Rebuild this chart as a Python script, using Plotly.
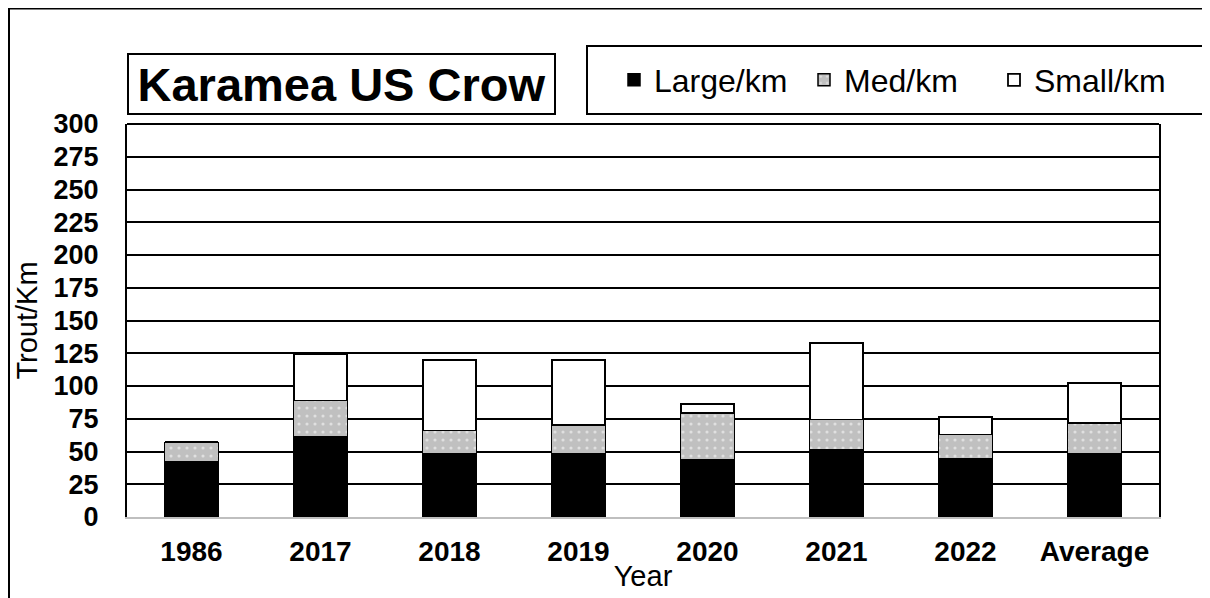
import plotly.graph_objects as go

categories = ["1986", "2017", "2018", "2019", "2020", "2021", "2022", "Average"]
large_km = [42, 61, 48, 48.5, 43.5, 51, 44.5, 48.5]
med_km = [15, 28, 18, 21.5, 36, 23.5, 18.5, 23]
small_km = [0, 35, 54, 50, 7, 58.5, 13.5, 31]
y_ticks = list(range(0, 301, 25))

FONT = "Liberation Sans, Arial, sans-serif"
OFF = 8  # page body margin
W, H = 1202, 590
L, R, T, B = 119, 51, 116, 81
PW, PH = W - L - R, H - T - B


def px(x):
    """screen x -> paper"""
    return (x - OFF - L) / PW


def py(y):
    """screen y -> paper"""
    return (H - B - (y - OFF)) / PH


fig = go.Figure()
fig.add_trace(go.Bar(name="Large/km", x=categories, y=large_km,
                     marker=dict(color="black", line=dict(color="black", width=1.5))))
fig.add_trace(go.Bar(name="Med/km", x=categories, y=med_km,
                     marker=dict(color="#c0c0c0", line=dict(color="black", width=1.5),
                                 pattern=dict(shape=".", fgcolor="white", bgcolor="#c0c0c0",
                                              size=8, solidity=0.12))))
fig.add_trace(go.Bar(name="Small/km", x=categories, y=small_km,
                     marker=dict(color="white", line=dict(color="black", width=1.8))))

fig.update_layout(
    width=W, height=H,
    margin=dict(l=L, r=R, t=T, b=B, autoexpand=False),
    barmode="stack", bargap=0.584,
    plot_bgcolor="white", paper_bgcolor="white",
    font=dict(family=FONT, color="black"),
    showlegend=True,
    legend=dict(orientation="h", x=px(614), xanchor="left", y=py(80), yanchor="middle",
                font=dict(size=32, family=FONT, color="black"), traceorder="normal",
                entrywidth=145, bgcolor="rgba(0,0,0,0)", borderwidth=0, itemwidth=30),
    xaxis=dict(showline=True, linecolor="#bfbfbf", linewidth=2, showgrid=False, ticks="",
               tickfont=dict(size=28, family=FONT, weight="bold", color="black"),
               ticklabelstandoff=8,
               title=dict(text="Year", font=dict(size=29, family=FONT, color="black"), standoff=0),
               fixedrange=True),
    yaxis=dict(range=[0, 300], tickvals=y_ticks, ticktext=[str(v) for v in y_ticks],
               showline=True, linecolor="black", linewidth=2, mirror=True,
               showgrid=True, gridcolor="black", gridwidth=2, zeroline=False, ticks="",
               tickfont=dict(size=27, family=FONT, weight="bold", color="black"),
               ticklabelstandoff=21,
               title=dict(text="Trout/Km", font=dict(size=29, family=FONT, color="black"), standoff=7),
               fixedrange=True),
    shapes=[
        dict(type="line", xref="paper", yref="paper", x0=0, x1=1, y0=1, y1=1,
             line=dict(color="black", width=2)),
        dict(type="rect", xref="paper", yref="paper", x0=px(587), x1=px(1204), y0=py(114), y1=py(46),
             line=dict(color="black", width=2), fillcolor="rgba(0,0,0,0)"),
        dict(type="rect", xref="paper", yref="paper", x0=px(9), x1=px(1225), y0=py(615), y1=py(8.5),
             line=dict(color="black", width=2), fillcolor="rgba(0,0,0,0)"),
    ],
    annotations=[
        dict(text="<b>Karamea US Crow</b>", xref="paper", yref="paper", x=px(341.5), y=py(84),
             xanchor="center", yanchor="middle", showarrow=False, width=425, height=58,
             font=dict(size=47, family=FONT, color="black"), bordercolor="black", borderwidth=2,
             borderpad=0, align="center", valign="middle"),
    ],
)

fig.write_html("out.html")
